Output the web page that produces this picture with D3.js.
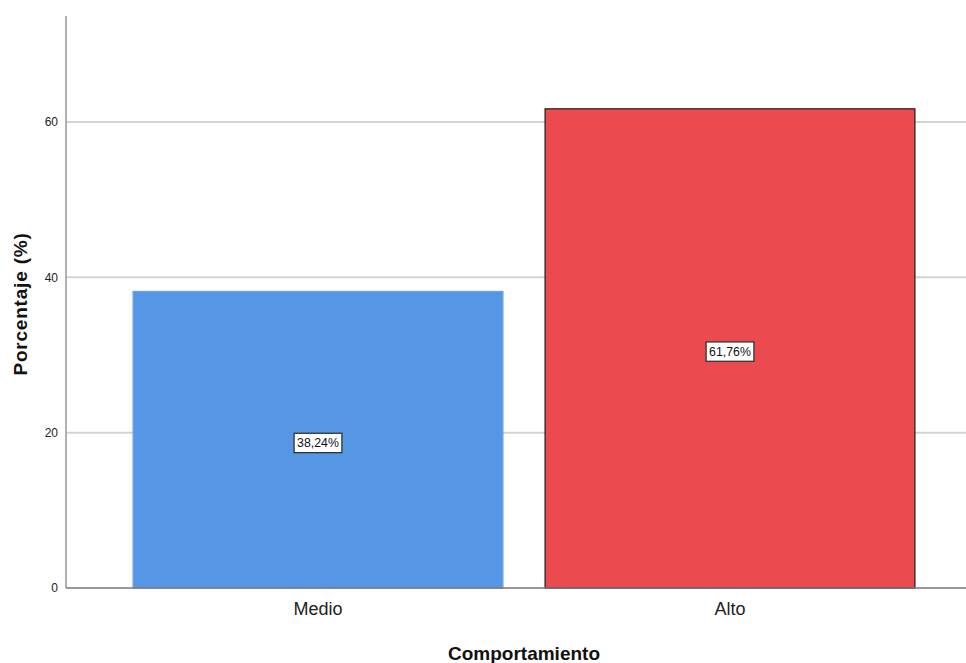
<!DOCTYPE html>
<html><head><meta charset="utf-8">
<script src="https://cdn.jsdelivr.net/npm/d3@7"></script>
<style>body{margin:0;background:#fff;} svg{display:block;font-family:Arial, "Liberation Sans", sans-serif;}</style>
</head><body>
<svg id="c" width="966" height="663"></svg>
<script>
const categories = ["Medio", "Alto"];
const values = [38.24, 61.76];
const valueLabels = ["38,24%", "61,76%"];
const yTicks = [0, 20, 40, 60];
const colors = ["#5596e5", "#eb4b4e"];
const strokes = ["#6aa3ea", "#2b2222"];

const svg = d3.select("#c");
const x0 = 66, x1 = 966, yTop = 16, yBase = 588;
const y = d3.scaleLinear().domain([0, 73.65]).range([yBase, yTop]);
const x = d3.scaleBand().domain(categories).range([112, 936]).paddingInner(0.1).paddingOuter(0.05);

// gridlines
svg.append("g").selectAll("line").data(yTicks.filter(d => d > 0)).join("line")
  .attr("x1", x0).attr("x2", x1).attr("y1", d => y(d)).attr("y2", d => y(d))
  .attr("stroke", "#d3d3d3").attr("stroke-width", 2);

// bars
svg.append("g").selectAll("rect").data(values).join("rect")
  .attr("x", (d, i) => x(categories[i]) + 0.5)
  .attr("y", d => y(d) + 0.5)
  .attr("width", x.bandwidth() - 1)
  .attr("height", d => yBase - y(d) - 0.5)
  .attr("fill", (d, i) => colors[i])
  .attr("stroke", (d, i) => strokes[i]).attr("stroke-width", 1.3);

// axes lines
svg.append("line").attr("x1", x0).attr("x2", x0).attr("y1", yTop).attr("y2", yBase)
  .attr("stroke", "#999").attr("stroke-width", 1.5);
svg.append("line").attr("x1", x0).attr("x2", x1).attr("y1", yBase).attr("y2", yBase)
  .attr("stroke", "#777").attr("stroke-width", 1.3);

// y tick labels
svg.append("g").selectAll("text").data(yTicks).join("text")
  .attr("x", 58).attr("y", d => y(d)).attr("dy", "0.35em")
  .attr("text-anchor", "end").attr("font-size", 12).attr("fill", "#222")
  .text(d => d);

// category labels
svg.append("g").selectAll("text").data(categories).join("text")
  .attr("x", d => x(d) + x.bandwidth() / 2).attr("y", 615)
  .attr("text-anchor", "middle").attr("font-size", 18).attr("fill", "#222")
  .text(d => d);

// value labels with boxes
const lg = svg.append("g").selectAll("g").data(values).join("g")
  .attr("transform", (d, i) => `translate(${x(categories[i]) + x.bandwidth() / 2},${y(d / 2) + 3})`);
lg.append("text").attr("text-anchor", "middle").attr("dy", "0.35em")
  .attr("font-size", 13).attr("fill", "#111")
  .attr("transform", "scale(0.95,1)")
  .text((d, i) => valueLabels[i])
  .each(function () {
    const b = this.getBBox();
    const w = b.width * 0.95;
    d3.select(this.parentNode).insert("rect", "text")
      .attr("x", -w / 2 - 3).attr("y", b.y - 2.5)
      .attr("width", w + 6).attr("height", b.height + 5)
      .attr("fill", "#fff").attr("stroke", "#333").attr("stroke-width", 1.3);
  });

// axis titles
svg.append("text").attr("transform", "translate(27,304) rotate(-90)")
  .attr("text-anchor", "middle").attr("font-size", 19).attr("font-weight", "bold").attr("fill", "#111")
  .attr("letter-spacing", 0.8)
  .text("Porcentaje (%)");
svg.append("text").attr("x", 524).attr("y", 660)
  .attr("text-anchor", "middle").attr("font-size", 19).attr("font-weight", "bold").attr("fill", "#111")
  .text("Comportamiento");
</script>
</body></html>
